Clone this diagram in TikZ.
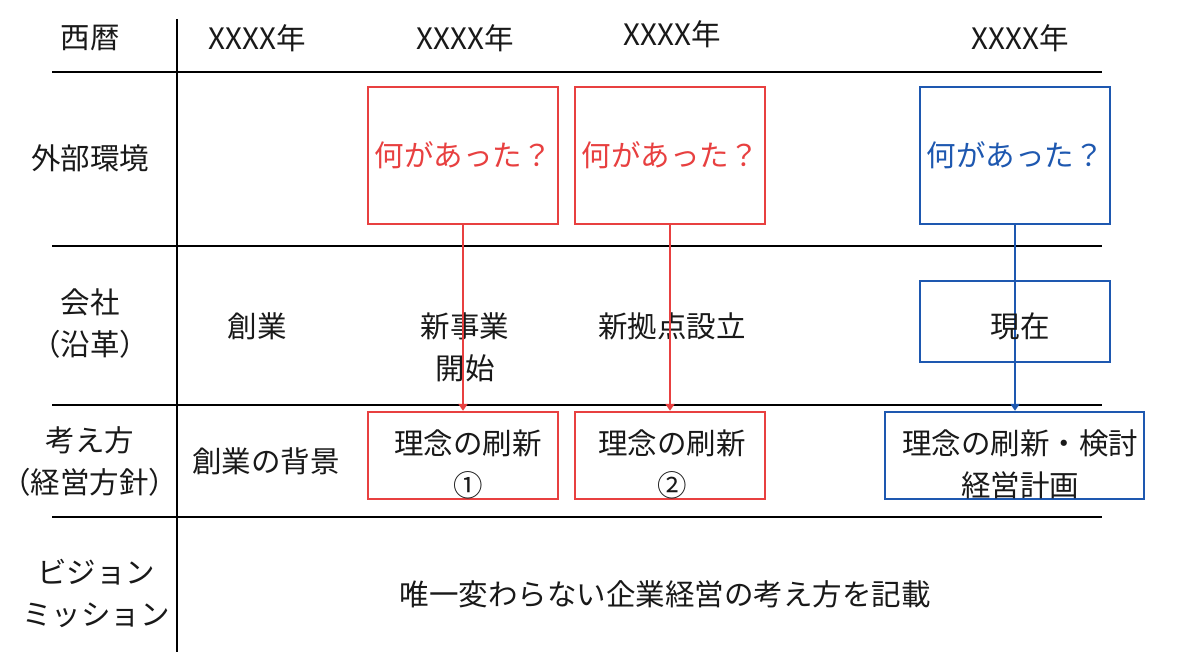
\documentclass[tikz,border=0pt]{standalone}
\usepackage{fontspec}
\newfontfamily\jpfont{Noto Sans CJK JP}
\usetikzlibrary{arrows.meta}
\definecolor{myred}{RGB}{232,64,64}
\definecolor{myblue}{RGB}{30,88,176}
\tikzset{
  grid/.style={line width=2.8pt, black},
  txt/.style={font=\jpfont\fontsize{29.5}{42}\selectfont, align=center, inner sep=0pt, text=black!90},
  redbox/.style={draw=myred, line width=2.4pt, inner sep=0pt, align=center, font=\jpfont\fontsize{29.5}{42}\selectfont},
  bluebox/.style={draw=myblue, line width=2.4pt, inner sep=0pt, align=center, font=\jpfont\fontsize{29.5}{42}\selectfont},
  redarrow/.style={draw=myred, line width=2pt, -{Triangle[width=9pt,length=7pt]}},
  bluearrow/.style={draw=myblue, line width=2pt, -{Triangle[width=9pt,length=7pt]}},
}
\begin{document}
\begin{tikzpicture}[x=1pt,y=-1pt]
\useasboundingbox[fill=white] (0,0) rectangle (1200,669);
% grid
\coordinate (vt) at (177,19);
\coordinate (vb) at (177,652);
\draw[grid] (vt) -- (vb);
\foreach \yy in {72,246,405,517}{
  \draw[grid] (52,\yy) -- (1102,\yy);
}
% row headers
\node[txt] (h1) at (90,38) {西暦};
\node[txt] (h2) at (90,158) {外部環境};
\node[txt] (h3) at (90,324) {会社\\（沿革）};
\node[txt] (h4) at (90,461) {考え方\\（経営方針）};
\node[txt] (h5) at (96,593) {ビジョン\\ミッション};
% years
\node[txt] (y1) at (257,38) {XXXX年};
\node[txt] (y2) at (465,38) {XXXX年};
\node[txt] (y3) at (672,34) {XXXX年};
\node[txt] (y4) at (1020,38) {XXXX年};
% external
\node[redbox, text=myred, minimum width=190pt, minimum height=137pt] (r1) at (463,155.5) {何があった？};
\node[redbox, text=myred, minimum width=190pt, minimum height=137pt] (r2) at (670,155.5) {何があった？};
\node[bluebox, text=myblue, minimum width=190pt, minimum height=137pt] (b1) at (1015,155.5) {何があった？};
% company
\node[txt] (c1) at (257,326) {創業};
\node[txt] (c2) at (465,347) {新事業\\開始};
\node[txt] (c3) at (672,326) {新拠点設立};
\node[bluebox, text=black!90, minimum width=190pt, minimum height=81pt] (b2) at (1015,321.5) {};
% policy
\node[txt] (p1) at (266,461) {創業の背景};
\node[redbox, text=black!90, minimum width=190pt, minimum height=87pt] (r3) at (463,455.5) {};
\node[redbox, text=black!90, minimum width=190pt, minimum height=87pt] (r4) at (670,455.5) {};
\node[bluebox, text=black!90, minimum width=259pt, minimum height=87pt] (b3) at (1014.5,455.5) {};
% arrows
\draw[redarrow] (r1.south) -- (r3.north);
\draw[redarrow] (r2.south) -- (r4.north);
\draw[bluearrow] (b1.south) -- (b1.south |- b3.north);
% texts on top
\node[txt] (b2t) at (1020,326) {現在};
\node[txt] (r3t) at (468,464) {理念の刷新\\①};
\node[txt] (r4t) at (672,464) {理念の刷新\\②};
\node[txt] (b3t) at (1020,464) {理念の刷新・検討\\経営計画};
% vision
\node[txt] (v1) at (665,594) {唯一変わらない企業経営の考え方を記載};
\end{tikzpicture}
\end{document}
